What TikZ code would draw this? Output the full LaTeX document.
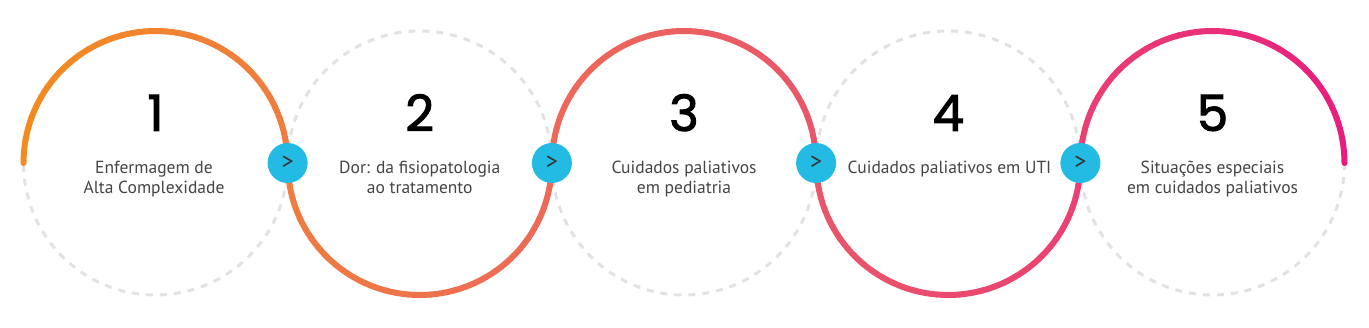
\documentclass[tikz,border=0pt]{standalone}
\usepackage{fontspec}
\setmainfont{PT Sans}
\newfontfamily\numfont[FakeBold=2]{Poppins}
\definecolor{cA}{RGB}{243,139,30}
\definecolor{cB}{RGB}{239,124,64}
\definecolor{cC}{RGB}{237,105,88}
\definecolor{cD}{RGB}{233,86,106}
\definecolor{cE}{RGB}{234,64,115}
\definecolor{cF}{RGB}{232,30,126}
\definecolor{dashgray}{RGB}{226,226,226}
\definecolor{bluedot}{RGB}{35,187,227}
\definecolor{labelgray}{RGB}{68,68,68}
\tikzset{
  solidarc/.style={line width=6pt, line cap=round},
  dasharc/.style={line width=3pt, dashgray, dash pattern=on 7pt off 7pt},
  numtext/.style={font=\numfont\fontsize{50}{50}\selectfont, text=black, anchor=base, inner sep=0pt},
  labtext/.style={font=\fontsize{17.5}{20}\selectfont, text=labelgray, align=center, anchor=base, inner sep=0pt},
  arrowdot/.style={circle, fill=bluedot, minimum size=40pt, inner sep=0pt, text=black!80, font=\fontsize{24}{24}\selectfont}
}
\newcommand\gradarc[6]{%
  \foreach \i in {0,...,35}{%
    \pgfmathsetmacro\aa{#4+5*\i}%
    \pgfmathsetmacro\ab{#4+5*\i+5}%
    \pgfmathsetmacro\pp{(1+cos(\aa+2.5))*50}%
    \colorlet{segc}{#6!\pp!#5}%
    \draw[solidarc, segc] ({#1+#3*cos(\aa)},{#2+#3*sin(\aa)}) arc[start angle=\aa, end angle=\ab, radius=#3];
  }}
\begin{document}
\begin{tikzpicture}[x=1pt,y=-1pt]
\useasboundingbox (0,0) rectangle (1369,328);
\def\R{132}
\coordinate (c1) at (155.5,163);
\coordinate (c2) at (419.75,163);
\coordinate (c3) at (684,163);
\coordinate (c4) at (948.25,163);
\coordinate (c5) at (1212.5,163);
% dashed halves
\draw[dasharc] (c1) ++(0:\R) arc[start angle=0, end angle=180, radius=\R];
\draw[dasharc] (c2) ++(180:\R) arc[start angle=180, end angle=360, radius=\R];
\draw[dasharc] (c3) ++(0:\R) arc[start angle=0, end angle=180, radius=\R];
\draw[dasharc] (c4) ++(180:\R) arc[start angle=180, end angle=360, radius=\R];
\draw[dasharc] (c5) ++(0:\R) arc[start angle=0, end angle=180, radius=\R];
% solid gradient halves
\gradarc{155.5}{163}{\R}{180}{cA}{cB}
\gradarc{419.75}{163}{\R}{0}{cB}{cC}
\gradarc{684}{163}{\R}{180}{cC}{cD}
\gradarc{948.25}{163}{\R}{0}{cD}{cE}
\gradarc{1212.5}{163}{\R}{180}{cE}{cF}
% numbers
\node[numtext] (n1) at (155.5,131) {1};
\node[numtext] (n2) at (419.75,131) {2};
\node[numtext] (n3) at (684,131) {3};
\node[numtext] (n4) at (948.25,131) {4};
\node[numtext] (n5) at (1212.5,131) {5};
% labels (base anchor = last line baseline)
\node[labtext] (t1) at (154,194) {Enfermagem de\\Alta Complexidade};
\node[labtext] (t2) at (419.75,194) {Dor: da fisiopatologia\\ao tratamento};
\node[labtext] (t3) at (684,194) {Cuidados paliativos\\em pediatria};
\node[labtext] (t4) at (949.5,174) {Cuidados paliativos em UTI};
\node[labtext] (t5) at (1212.5,194) {Situações especiais\\em cuidados paliativos};
% arrow dots
\node[arrowdot] (a1) at (287.6,163) {>};
\node[arrowdot] (a2) at (551.9,163) {>};
\node[arrowdot] (a3) at (816.1,163) {>};
\node[arrowdot] (a4) at (1080.4,163) {>};
\end{tikzpicture}
\end{document}
